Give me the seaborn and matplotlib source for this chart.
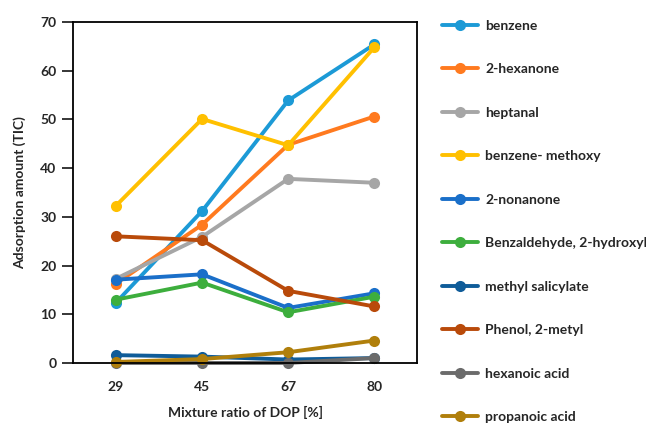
import numpy as np
import pandas as pd
import matplotlib.pyplot as plt
import seaborn as sns

# ----------------------------------------------------------------------
# Data
# ----------------------------------------------------------------------
ratios = ["29", "45", "67", "80"]

compounds = [
    "benzene", "2-hexanone", "heptanal", "benzene- methoxy", "2-nonanone",
    "Benzaldehyde, 2-hydroxyl", "methyl salicylate", "Phenol, 2-metyl",
    "hexanoic acid", "propanoic acid",
]

benzene          = [12.4, 31.2, 53.9, 65.4]
hexanone         = [16.3, 28.4, 44.8, 50.6]
heptanal         = [17.3, 25.9, 37.8, 37.0]
benzene_methoxy  = [32.3, 50.1, 44.7, 64.8]
nonanone         = [17.1, 18.2, 11.3, 14.3]
benzaldehyde     = [13.0, 16.5, 10.4, 13.6]
methyl_salicyl   = [1.6, 1.3, 0.7, 1.0]
phenol_metyl     = [26.0, 25.2, 14.8, 11.6]
hexanoic_acid    = [0.0, 0.0, 0.0, 1.0]
propanoic_acid   = [0.2, 0.8, 2.2, 4.6]

series = [benzene, hexanone, heptanal, benzene_methoxy, nonanone,
          benzaldehyde, methyl_salicyl, phenol_metyl, hexanoic_acid,
          propanoic_acid]

colors = ["#1C9AD6", "#FF7A1F", "#A6A6A6", "#FFC000", "#1A6FC9",
          "#3DAE3D", "#0F5C99", "#B94A0A", "#6B6B6B", "#B07F0B"]

rows = []
for name, vals in zip(compounds, series):
    for r, v in zip(ratios, vals):
        rows.append({"ratio": r, "amount": v, "compound": name})
df = pd.DataFrame(rows)

# ----------------------------------------------------------------------
# Plot
# ----------------------------------------------------------------------
sns.set_style("white")
plt.rcParams["font.family"] = ["Lato", "DejaVu Sans"]
plt.rcParams["font.weight"] = "bold"

fig = plt.figure(figsize=(6.46, 4.24), dpi=100)
ax = fig.add_axes([0.113, 0.144, 0.533, 0.804])

sns.lineplot(
    data=df, x="ratio", y="amount", hue="compound",
    hue_order=compounds, palette=dict(zip(compounds, colors)),
    marker="o", markersize=8, markeredgewidth=0, linewidth=2.8,
    sort=False, ax=ax,
)
for line in ax.lines:
    line.set_clip_on(False)

ax.set_xlim(-0.5, 3.5)
ax.set_ylim(0, 70)
ax.set_yticks(np.arange(0, 71, 10))
ax.tick_params(axis="y", direction="out", length=8, width=1.3,
               labelsize=10, pad=4, left=True)
ax.tick_params(axis="x", length=0, labelsize=10, pad=13)
for lab in ax.get_xticklabels() + ax.get_yticklabels():
    lab.set_fontweight("bold")

for sp in ax.spines.values():
    sp.set_visible(True)
    sp.set_color("black")
    sp.set_linewidth(1.3)

ax.set_xlabel("Mixture ratio of DOP [%]", fontsize=10, fontweight="bold",
              labelpad=9)
ax.set_ylabel("Adsorption amount (TIC)", fontsize=10, fontweight="bold",
              labelpad=10)

ax.get_legend().remove()
handles, labels = ax.get_legend_handles_labels()
fig.legend(handles, labels, loc="upper left",
           bbox_to_anchor=(0.675, 0.967), frameon=False,
           prop={"size": 10, "weight": "bold"},
           labelspacing=2.27, handlelength=2.6, handletextpad=0.55,
           borderaxespad=0)

fig.savefig("out.png", dpi=100, facecolor="white")
